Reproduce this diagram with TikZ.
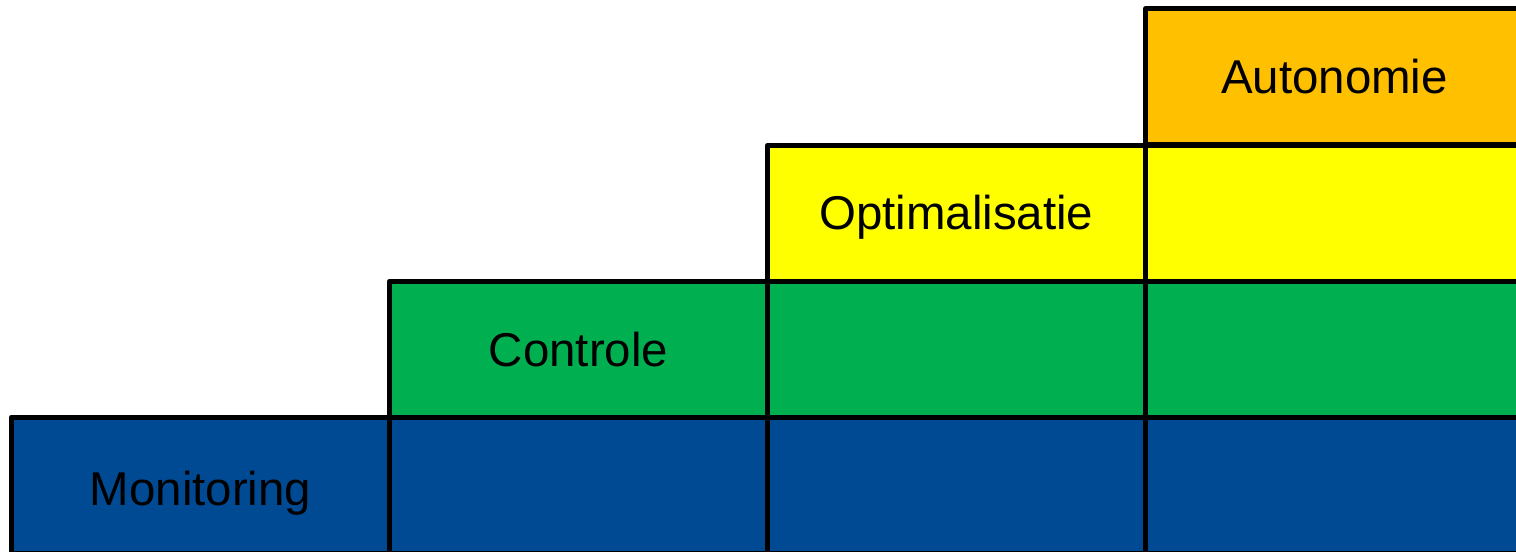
\documentclass[tikz,border=0pt]{standalone}
\usepackage{fontspec}
\setmainfont{Liberation Sans}
\usepackage{tikz}
\definecolor{monblue}{RGB}{0,74,147}
\definecolor{congreen}{RGB}{0,176,80}
\definecolor{optyellow}{RGB}{255,255,0}
\definecolor{autorange}{RGB}{255,192,0}
\begin{document}
\begin{tikzpicture}[line cap=round,line join=round,x=1.0cm,y=1.0cm,
  cell/.style={draw=black,line width=0.05cm,inner sep=0pt,minimum width=3.78cm,minimum height=1.36cm},
  lbl/.style={font=\fontsize{13.5}{16}\selectfont,text=black,inner sep=0pt}]
\useasboundingbox (0,0) rectangle (15.16,5.51);
\clip (0,0) rectangle (15.16,5.51);
% onderste rij
\node[cell,fill=monblue] (mon1) at (2.005,0.66) {};
\node[cell,fill=monblue] (mon2) at (5.785,0.66) {};
\node[cell,fill=monblue] (mon3) at (9.5625,0.66) {};
\node[cell,fill=monblue] (mon4) at (13.345,0.66) {};
% tweede rij
\node[cell,fill=congreen] (con2) at (5.785,2.0175) {};
\node[cell,fill=congreen] (con3) at (9.5625,2.0175) {};
\node[cell,fill=congreen] (con4) at (13.345,2.0175) {};
% derde rij
\node[cell,fill=optyellow] (opt3) at (9.5625,3.3775) {};
\node[cell,fill=optyellow] (opt4) at (13.345,3.3775) {};
% bovenste rij
\node[cell,fill=autorange] (aut4) at (13.345,4.7425) {};
% teksten
\node[lbl] (monlbl) at ([yshift=-0.08cm]mon1.center) {Monitoring};
\node[lbl] (conlbl) at (con2.center) {Controle};
\node[lbl] (optlbl) at ([yshift=-0.04cm]opt3.center) {Optimalisatie};
\node[lbl] (autlbl) at (aut4.center) {Autonomie};
\end{tikzpicture}
\end{document}
